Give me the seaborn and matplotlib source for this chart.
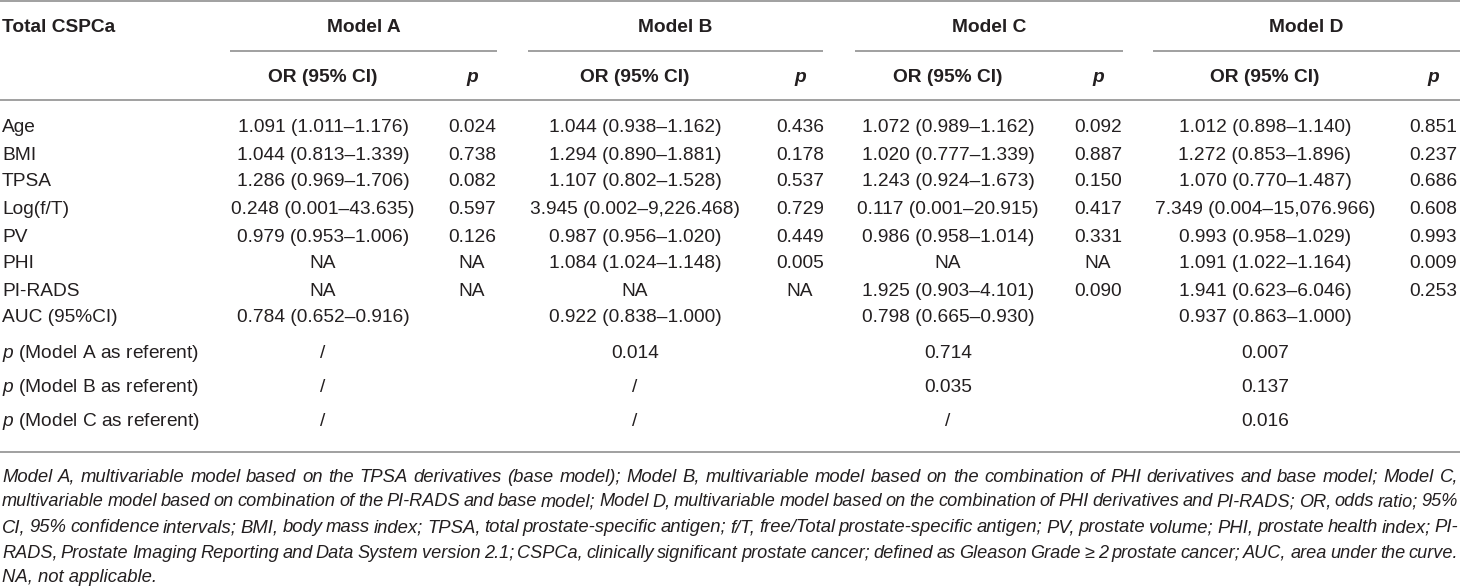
import matplotlib
matplotlib.use("Agg")
import matplotlib.pyplot as plt
import seaborn as sns

# Table content
row_labels = ["Age", "BMI", "TPSA", "Log(f/T)", "PV", "PHI", "PI-RADS", "AUC (95%CI)",
              "$p$ (Model A as referent)", "$p$ (Model B as referent)", "$p$ (Model C as referent)"]
models = ["Model A", "Model B", "Model C", "Model D"]

or_a = ["1.091 (1.011–1.176)", "1.044 (0.813–1.339)", "1.286 (0.969–1.706)", "0.248 (0.001–43.635)",
        "0.979 (0.953–1.006)", "NA", "NA", "0.784 (0.652–0.916)", "/", "/", "/"]
p_a = ["0.024", "0.738", "0.082", "0.597", "0.126", "NA", "NA", "", "", "", ""]
or_b = ["1.044 (0.938–1.162)", "1.294 (0.890–1.881)", "1.107 (0.802–1.528)", "3.945 (0.002–9,226.468)",
        "0.987 (0.956–1.020)", "1.084 (1.024–1.148)", "NA", "0.922 (0.838–1.000)", "0.014", "/", "/"]
p_b = ["0.436", "0.178", "0.537", "0.729", "0.449", "0.005", "NA", "", "", "", ""]
or_c = ["1.072 (0.989–1.162)", "1.020 (0.777–1.339)", "1.243 (0.924–1.673)", "0.117 (0.001–20.915)",
        "0.986 (0.958–1.014)", "NA", "1.925 (0.903–4.101)", "0.798 (0.665–0.930)", "0.714", "0.035", "/"]
p_c = ["0.092", "0.887", "0.150", "0.417", "0.331", "NA", "0.090", "", "", "", ""]
or_d = ["1.012 (0.898–1.140)", "1.272 (0.853–1.896)", "1.070 (0.770–1.487)", "7.349 (0.004–15,076.966)",
        "0.993 (0.958–1.029)", "1.091 (1.022–1.164)", "1.941 (0.623–6.046)", "0.937 (0.863–1.000)",
        "0.007", "0.137", "0.016"]
p_d = ["0.851", "0.237", "0.686", "0.608", "0.993", "0.009", "0.253", "", "", "", ""]

footnote = [
    "Model A, multivariable model based on the TPSA derivatives (base model); Model B, multivariable model based on the combination of PHI derivatives and base model; Model C,",
    "multivariable model based on combination of the PI-RADS and base model; Model D, multivariable model based on the combination of PHI derivatives and PI-RADS; OR, odds ratio; 95%",
    "CI, 95% confidence intervals; BMI, body mass index; TPSA, total prostate-specific antigen; f/T, free/Total prostate-specific antigen; PV, prostate volume; PHI, prostate health index; PI-",
    "RADS, Prostate Imaging Reporting and Data System version 2.1; CSPCa, clinically significant prostate cancer; defined as Gleason Grade ≥ 2 prostate cancer; AUC, area under the curve.",
    "NA, not applicable.",
]

sns.set_theme(style="white")
plt.rcParams["font.family"] = ["Liberation Sans", "DejaVu Sans"]
plt.rcParams["mathtext.fontset"] = "custom"
plt.rcParams["mathtext.rm"] = "Liberation Sans"
plt.rcParams["mathtext.it"] = "Liberation Sans:italic"

W, H = 1460, 587
fig = plt.figure(figsize=(W / 100, H / 100), dpi=100)
ax = fig.add_axes([0, 0, 1, 1])
ax.set_xlim(0, W)
ax.set_ylim(H, 0)
ax.axis("off")

txt = "#231f20"
rule = "#a0a0a0"
fs = 13.8

# layout
or_x = [323, 635, 948, 1265]
p_x = [472, 800, 1098, 1433]
spans = [(230, 497), (528, 823), (855, 1123), (1153, 1460)]
row_y = [128, 155, 182, 209, 237, 264, 291, 318, 353, 388, 422]

# rules
ax.hlines(1, 0, W, color=rule, lw=1.4)
ax.hlines(100, 0, W, color=rule, lw=1.4)
ax.hlines(452, 0, W, color=rule, lw=1.4)
for x0, x1 in spans:
    ax.hlines(51, x0, x1, color=rule, lw=1.4)

# headers
ax.text(2, 27, "Total CSPCa", fontsize=fs, fontweight="bold", color=txt, va="center")
for m, (x0, x1), ox, px in zip(models, spans, or_x, p_x):
    ax.text((x0 + x1) / 2, 27, m, fontsize=fs, fontweight="bold", color=txt, ha="center", va="center")
    ax.text(ox, 78, "OR (95% CI)", fontsize=fs, fontweight="bold", color=txt, ha="center", va="center")
    ax.text(px, 78, "p", fontsize=fs, fontweight="bold", style="italic", color=txt, ha="center", va="center")

# body
cols = [(or_a, p_a), (or_b, p_b), (or_c, p_c), (or_d, p_d)]
for i, y in enumerate(row_y):
    ax.text(2, y, row_labels[i], fontsize=fs, color=txt, va="center")
    for (orv, pv), ox, px in zip(cols, or_x, p_x):
        ax.text(ox, y, orv[i], fontsize=fs, color=txt, ha="center", va="center")
        ax.text(px, y, pv[i], fontsize=fs, color=txt, ha="center", va="center")

# footnote, justified like the journal layout
renderer = fig.canvas.get_renderer()
foot_y = [477, 502, 528, 553, 578]
foot_fs = 13.3
for k, (line, y) in enumerate(zip(footnote, foot_y)):
    if k == len(footnote) - 1:
        ax.text(2, y, line, fontsize=foot_fs, style="italic", color=txt, va="center")
        continue
    words = line.split(" ")
    size = foot_fs
    while True:
        items = [ax.text(0, y, w, fontsize=size, style="italic", color=txt, va="center") for w in words]
        widths = [t.get_window_extent(renderer).width for t in items]
        gap = (W - 4 - sum(widths)) / (len(words) - 1)
        if gap >= 3.2 or size < 11:
            break
        for t in items:
            t.remove()
        size -= 0.2
    x = 2
    for t, w in zip(items, widths):
        t.set_x(x)
        x += w + gap

fig.savefig("out.png", dpi=100)
